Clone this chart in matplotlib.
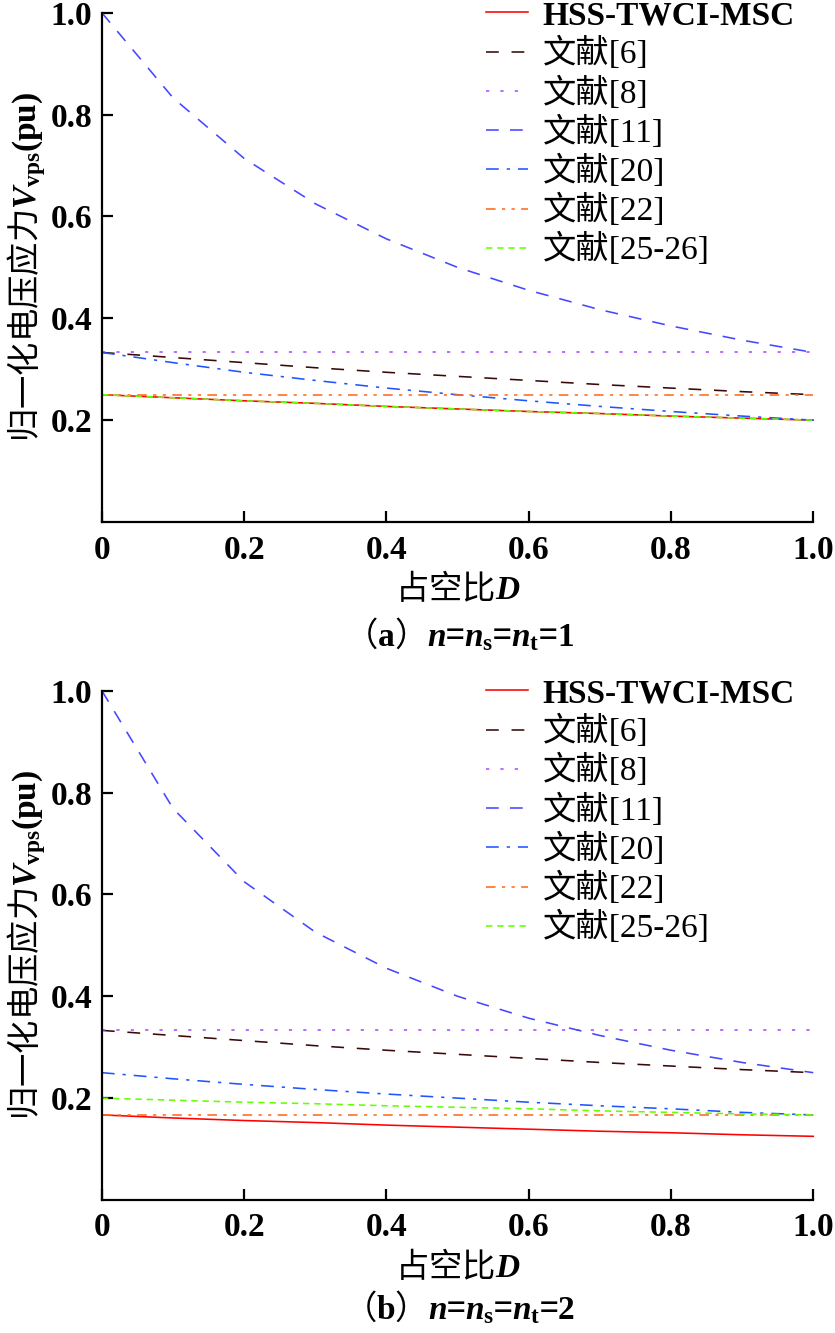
import matplotlib
matplotlib.use('Agg')
import matplotlib.pyplot as plt

plt.rcParams['font.family'] = ['Liberation Serif', 'Noto Sans CJK SC']
plt.rcParams['mathtext.fontset'] = 'custom'
plt.rcParams['mathtext.rm'] = 'Liberation Serif:bold'
plt.rcParams['mathtext.it'] = 'Liberation Serif:italic:bold'
plt.rcParams['mathtext.bf'] = 'Liberation Serif:bold'
plt.rcParams['font.size'] = 24

# duty cycle D
D = [0.0, 0.1, 0.2, 0.3, 0.4, 0.5, 0.6, 0.7, 0.8, 0.9, 1.0]

# (a) n = ns = nt = 1
hss_a   = [0.250, 0.244, 0.238, 0.233, 0.227, 0.222, 0.217, 0.213, 0.208, 0.204, 0.200]
ref6_a  = [0.333, 0.323, 0.313, 0.303, 0.294, 0.286, 0.278, 0.270, 0.263, 0.256, 0.250]
ref8_a  = [0.333] * 11
ref11_a = [1.000, 0.833, 0.714, 0.625, 0.556, 0.500, 0.455, 0.417, 0.385, 0.357, 0.333]
ref20_a = [0.333, 0.313, 0.294, 0.278, 0.263, 0.250, 0.238, 0.227, 0.217, 0.208, 0.200]
ref22_a = [0.250] * 11
ref25_a = [0.250, 0.244, 0.238, 0.233, 0.227, 0.222, 0.217, 0.213, 0.208, 0.204, 0.200]

# (b) n = ns = nt = 2
hss_b   = [0.167, 0.161, 0.156, 0.152, 0.147, 0.143, 0.139, 0.135, 0.132, 0.128, 0.125]
ref6_b  = [0.333, 0.323, 0.313, 0.303, 0.294, 0.286, 0.278, 0.270, 0.263, 0.256, 0.250]
ref8_b  = [0.333] * 11
ref11_b = [1.000, 0.769, 0.625, 0.526, 0.455, 0.400, 0.357, 0.323, 0.294, 0.270, 0.250]
ref20_b = [0.250, 0.238, 0.227, 0.217, 0.208, 0.200, 0.192, 0.185, 0.179, 0.172, 0.167]
ref22_b = [0.167] * 11
ref25_b = [0.200, 0.196, 0.192, 0.189, 0.185, 0.182, 0.179, 0.175, 0.172, 0.169, 0.167]

labels = ['HSS-TWCI-MSC', '文献[6]', '文献[8]', '文献[11]', '文献[20]', '文献[22]', '文献[25-26]']
colors = ['#ff0000', '#3a0808', '#a64dff', '#4646ff', '#1f55ff', '#ff6a1a', '#66ff00']
dashes = [None, (8, 8), (2, 7), (8, 7), (8, 5, 2, 5), (6, 4, 2, 4, 2, 4), (4, 3)]

xticks = [0, 0.2, 0.4, 0.6, 0.8, 1.0]
xticklabels = ['0', '0.2', '0.4', '0.6', '0.8', '1.0']
yticks = [0.2, 0.4, 0.6, 0.8, 1.0]
yticklabels = ['0.2', '0.4', '0.6', '0.8', '1.0']

fig = plt.figure(figsize=(8.35, 13.33), dpi=100)


def panel(rect, series, caption, cap_y):
    ax = fig.add_axes(rect)
    for ys, lab, c, d in zip(series, labels, colors, dashes):
        line, = ax.plot(D, ys, color=c, lw=1.15, label=lab, clip_on=False)
        if d is not None:
            line.set_dashes(d)
    ax.set_xlim(0, 1)
    ax.set_ylim(0, 1)
    ax.set_xticks(xticks)
    ax.set_xticklabels(xticklabels, fontweight='bold')
    ax.set_yticks(yticks)
    ax.set_yticklabels(yticklabels, fontweight='bold')
    ax.spines['top'].set_visible(False)
    ax.spines['right'].set_visible(False)
    ax.spines['left'].set_linewidth(1.6)
    ax.spines['bottom'].set_linewidth(1.6)
    ax.tick_params(direction='in', length=8, width=1.6)
    ax.tick_params(axis='x', pad=9)
    ax.tick_params(axis='y', pad=7)
    ax.set_xlabel('占空比$D$', fontfamily='Noto Sans CJK SC', labelpad=4)
    ax.set_ylabel('归一化电压应力$V_{\\rm vps}\\rm(pu)$',
                  fontfamily='Noto Sans CJK SC', labelpad=2)
    leg = ax.legend(loc='upper left', bbox_to_anchor=(0.54, 1.025), frameon=False,
                    borderaxespad=0, borderpad=0, handlelength=1.25,
                    handletextpad=0.45, labelspacing=0.18)
    leg.get_texts()[0].set_fontweight('bold')
    fig.text(0.55, cap_y, caption, ha='center', va='center',
             fontfamily='Noto Sans CJK SC')
    return ax


panel([0.122, 0.6084, 0.852, 0.382],
      [hss_a, ref6_a, ref8_a, ref11_a, ref20_a, ref22_a, ref25_a],
      '（$\\rm a$）$n$=$n_{\\rm s}$=$n_{\\rm t}$=$\\rm 1$', 1 - 635 / 1333)
panel([0.122, 0.0998, 0.852, 0.382],
      [hss_b, ref6_b, ref8_b, ref11_b, ref20_b, ref22_b, ref25_b],
      '（$\\rm b$）$n$=$n_{\\rm s}$=$n_{\\rm t}$=$\\rm 2$', 1 - 1308 / 1333)

fig.savefig('out.png', dpi=100)
